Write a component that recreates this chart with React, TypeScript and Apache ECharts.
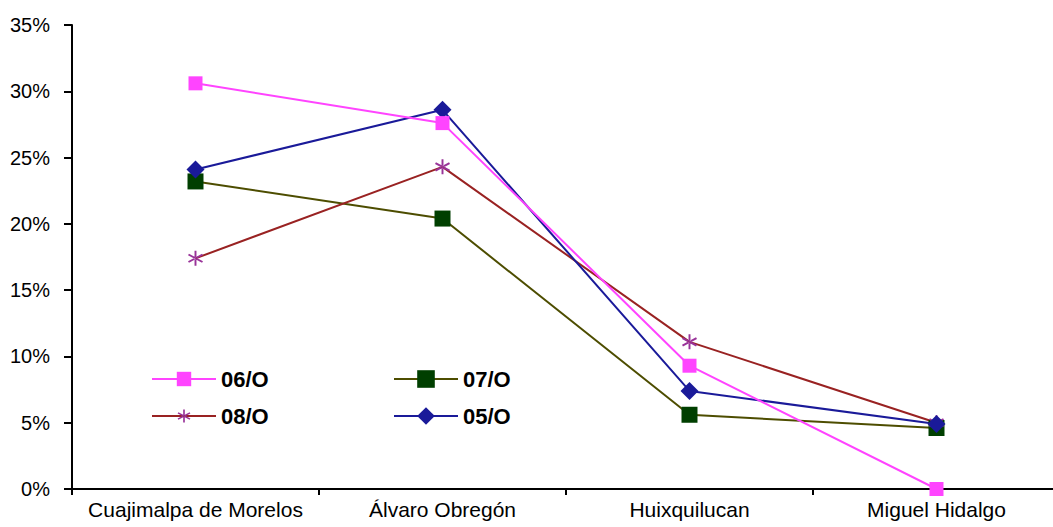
import React, { useEffect, useRef } from "react";
import * as echarts from "echarts";

const categories = ["Cuajimalpa de Morelos", "Álvaro Obregón", "Huixquilucan", "Miguel Hidalgo"];
const s06 = [30.6, 27.6, 9.3, 0.0];
const s07 = [23.2, 20.4, 5.6, 4.6];
const s08 = [17.4, 24.3, 11.1, 5.0];
const s05 = [24.1, 28.6, 7.4, 4.9];
const yTicks = [0, 5, 10, 15, 20, 25, 30, 35];

const STAR =
  "path://M-1.2,-10L1.2,-10L1.2,10L-1.2,10Z M9.26,3.96L8.06,6.04L-9.26,-3.96L-8.06,-6.04Z M-9.26,3.96L-8.06,6.04L9.26,-3.96L8.06,-6.04Z";

export default function App() {
  const ref = useRef<HTMLDivElement>(null);
  useEffect(() => {
    if (!ref.current) return;
    const chart = echarts.init(ref.current, null, { renderer: "svg" });
    const font = "Arial, 'Liberation Sans', sans-serif";
    const legendBase = {
      orient: "horizontal",
      padding: 0,
      itemWidth: 64,
      textStyle: { fontFamily: font, fontSize: 22, fontWeight: "bold", color: "#000" },
      selectedMode: false,
    };
    const mk = (name: string, left: number, cy: number, h: number) => ({
      ...legendBase,
      data: [name],
      left,
      top: cy - Math.max(h, 22) / 2,
      itemHeight: h,
    });
    chart.setOption({
      animation: false,
      backgroundColor: "#fff",
      grid: { left: 72, top: 25, width: 988, height: 464, containLabel: false },
      legend: [
        mk("06/O", 151, 379, 18),
        mk("07/O", 393, 379, 22),
        mk("08/O", 151, 416, 16),
        mk("05/O", 393, 416, 22),
      ],
      xAxis: {
        type: "category",
        data: categories,
        boundaryGap: true,
        axisLine: { lineStyle: { color: "#000", width: 2 } },
        axisTick: { show: true, interval: 0, length: 6, lineStyle: { color: "#000", width: 2 } },
        axisLabel: { interval: 0, fontFamily: font, fontSize: 21, color: "#000", margin: 10 },
        splitLine: { show: false },
      },
      yAxis: {
        type: "value",
        min: yTicks[0],
        max: yTicks[yTicks.length - 1],
        interval: 5,
        axisLine: { show: true, lineStyle: { color: "#000", width: 2 } },
        axisTick: { show: true, length: 8, lineStyle: { color: "#000", width: 2 } },
        axisLabel: { fontFamily: font, fontSize: 20, color: "#000", margin: 22, formatter: "{value}%" },
        splitLine: { show: false },
      },
      series: [
        {
          name: "07/O",
          type: "line",
          data: s07,
          symbol: "rect",
          symbolSize: 16,
          lineStyle: { color: "#4d4d00", width: 2 },
          itemStyle: { color: "#003f00" },
        },
        {
          name: "08/O",
          type: "line",
          data: s08,
          symbol: STAR,
          symbolSize: 15,
          lineStyle: { color: "#992222", width: 2 },
          itemStyle: { color: "#993399" },
        },
        {
          name: "05/O",
          type: "line",
          data: s05,
          symbol: "diamond",
          symbolSize: 18,
          lineStyle: { color: "#1a1a99", width: 2 },
          itemStyle: { color: "#1a1a99" },
        },
        {
          name: "06/O",
          type: "line",
          data: s06,
          symbol: "rect",
          symbolSize: 14,
          lineStyle: { color: "#ff44ff", width: 2 },
          itemStyle: { color: "#ff44ff" },
        },
      ],
    });
    return () => chart.dispose();
  }, []);
  return (
    <div style={{ position: "absolute", left: 0, top: 0, width: 1053, height: 527, overflow: "hidden" }}>
      <div ref={ref} style={{ width: 1062, height: 527 }} />
    </div>
  );
}
